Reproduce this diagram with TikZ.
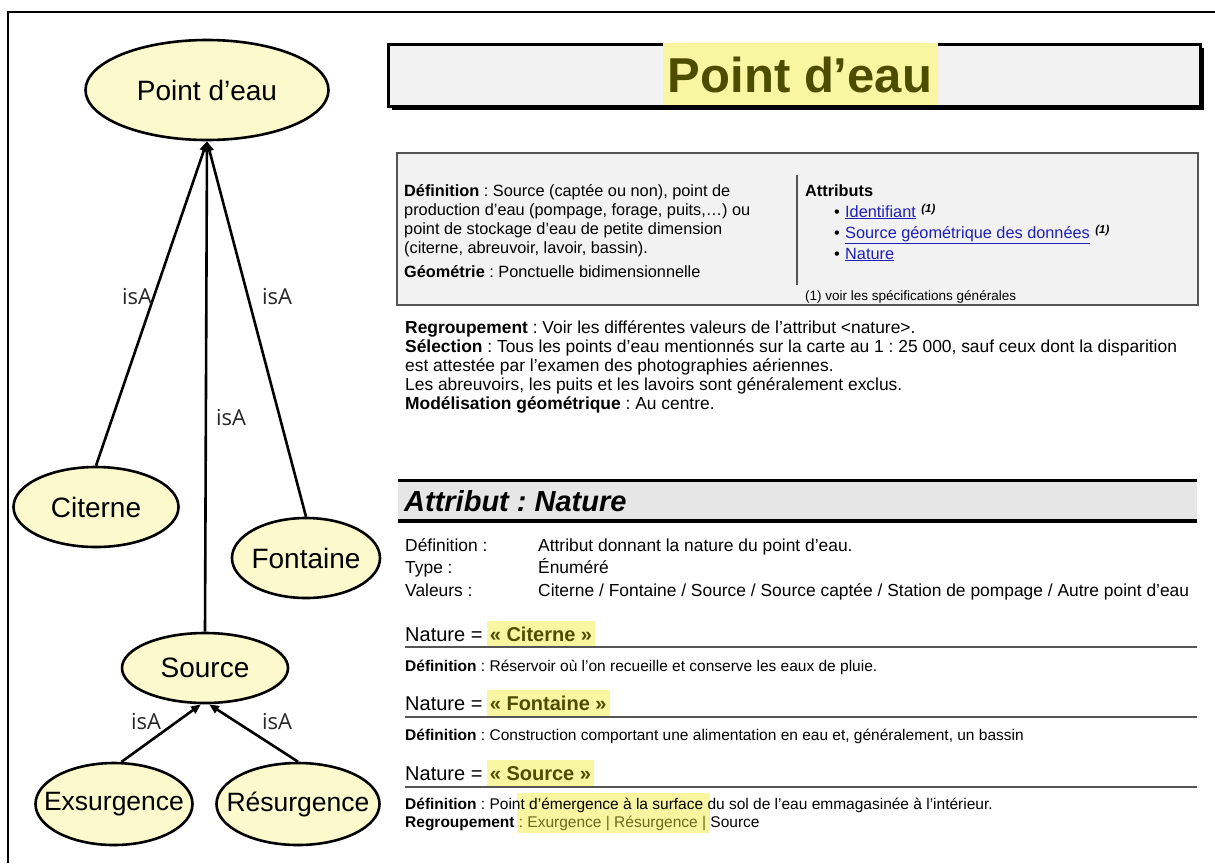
\documentclass[tikz,border=0pt]{standalone}
\usepackage{fontspec}
\setmainfont{Liberation Sans}
\newfontfamily\isafont{Open Sans}
\usetikzlibrary{shapes.geometric,arrows.meta}
\frenchspacing
\definecolor{ellfill}{HTML}{FCFACD}
\definecolor{hl}{HTML}{F9F6A2}
\definecolor{olivetxt}{HTML}{4D4D00}
\definecolor{olivelt}{HTML}{6B6B1E}
\definecolor{boxgray}{HTML}{F2F2F2}
\definecolor{bandgray}{HTML}{E6E6E6}
\definecolor{linkblue}{HTML}{1F1FB8}
\definecolor{rulegray}{HTML}{555555}
\newcommand\setfs[1]{\fontsize{#1}{#1}\selectfont}
\newcommand\ztext[1]{\makebox[0pt]{#1}}
\tikzset{
  ell/.style={ellipse, draw, line width=2.6pt, fill=ellfill, inner sep=0pt, font=\setfs{28}},
  isa/.style={line width=2.6pt, -{Triangle[length=10pt,width=8pt]}},
  lab/.style={font=\isafont\setfs{22}, text=black!85, inner sep=0pt},
  txt/.style={anchor=base west, inner sep=0pt, font=\setfs{17.4}},
  dtxt/.style={anchor=base west, inner sep=0pt, font=\setfs{16.3}},
  small/.style={anchor=base west, inner sep=0pt, font=\setfs{15.5}},
  hdr/.style={anchor=base west, inner sep=0pt, font=\setfs{20}},
  hlval/.style={anchor=base west, fill=hl, inner xsep=3pt, inner ysep=0pt, minimum height=26pt, font=\setfs{20}\bfseries, text=olivetxt},
  link/.style={anchor=base west, inner sep=0pt, font=\setfs{16.3}, text=linkblue},
  supr/.style={anchor=base west, inner sep=0pt, font=\setfs{11.5}\bfseries\itshape},
  thinrule/.style={line width=1.5pt, draw=rulegray}
}
\begin{document}
\begin{tikzpicture}[x=1pt,y=-1pt]
\useasboundingbox (0,0) rectangle (1215,863);
% outer frame
\draw[line width=2pt] (8,863) -- (8,12) -- (1215,12);

% ---------- left: taxonomy ----------
\node[ell, minimum width=243pt, minimum height=100pt] (P) at (207,90) {\ztext{Point d’eau}};
\node[ell, minimum width=165pt, minimum height=80pt] (C) at (96,507) {\ztext{Citerne}};
\node[ell, minimum width=148pt, minimum height=80pt] (F) at (306,558) {\ztext{Fontaine}};
\node[ell, minimum width=166pt, minimum height=70pt] (S) at (205,668) {\ztext{Source}};
\node[ell, minimum width=157pt, minimum height=82pt, font=\setfs{26.5}] (E) at (114,804) {\ztext{Exsurgence}};
\node[ell, minimum width=163pt, minimum height=82pt, font=\setfs{26.5}] (R) at (298,804) {\ztext{Résurgence}};

\draw[isa] (C.north) -- (P.south);
\draw[isa] (F.north) -- (P.south);
\draw[isa] (S.north) -- (P.south);
\draw[isa] (E.80) -- ([xshift=-4pt]S.south);
\draw[isa] (R.north) -- ([xshift=4pt]S.south);

\node[lab] (l1) at (137,297) {isA};
\node[lab] (l2) at (277,297) {isA};
\node[lab] (l3) at (231,418) {isA};
\node[lab] (l4) at (146,722) {isA};
\node[lab] (l5) at (277,722) {isA};

% ---------- right: title ----------
\fill[black] (392,48) rectangle (1204,110);
\draw[line width=3pt, fill=boxgray] (388,44) rectangle (1200,106);
\fill[hl] (663,42.5) rectangle (938,104.5);
\node[inner sep=0pt, font=\setfs{49}\bfseries, text=olivetxt] (title) at (800,75) {Point d’eau};

% ---------- definition box ----------
\draw[line width=1.5pt, draw=rulegray, fill=boxgray] (397,153) rectangle (1198,305);
\draw[line width=1.5pt, draw=rulegray] (797,175) -- (797,285);
\node[dtxt] (d1) at (404,196) {\textbf{Définition} : Source (captée ou non), point de};
\node[dtxt] (d2) at (404,215) {production d’eau (pompage, forage, puits,…) ou};
\node[dtxt] (d3) at (404,234) {point de stockage d’eau de petite dimension};
\node[dtxt] (d4) at (404,253) {(citerne, abreuvoir, lavoir, bassin).};
\node[dtxt] (d5) at (404,277) {\textbf{Géométrie} : Ponctuelle bidimensionnelle};

\node[dtxt] (a0) at (805,196) {\textbf{Attributs}};
\node[dtxt] (b1) at (834,217) {•};
\node[link] (a1) at (845,217) {\underline{Identifiant}};
\node[supr] (s1) at ([xshift=5pt,yshift=5pt]a1.base east) {(1)};
\node[dtxt] (b2) at (834,238) {•};
\node[link] (a2) at (845,238) {\underline{Source géométrique des données}};
\node[supr] (s2) at ([xshift=5pt,yshift=5pt]a2.base east) {(1)};
\node[dtxt] (b3) at (834,259) {•};
\node[link] (a3) at (845,259) {\underline{Nature}};
\node[dtxt, font=\setfs{13.5}] (fn) at (805,300) {(1) voir les spécifications générales};

% ---------- body ----------
\node[txt] (t1) at (405,333) {\textbf{Regroupement} : Voir les différentes valeurs de l'attribut <nature>.};
\node[txt] (t2) at (405,352) {\textbf{Sélection} : Tous les points d’eau mentionnés sur la carte au 1 : 25 000, sauf ceux dont la disparition};
\node[txt] (t3) at (405,371) {est attestée par l’examen des photographies aériennes.};
\node[txt] (t4) at (405,390) {Les abreuvoirs, les puits et les lavoirs sont généralement exclus.};
\node[txt] (t5) at (405,409) {\textbf{Modélisation géométrique} : Au centre.};

% ---------- attribut nature ----------
\fill[bandgray] (398,481.5) rectangle (1197,519);
\draw[line width=3pt] (398,480) -- (1197,480);
\draw[line width=4pt] (398,521) -- (1197,521);
\node[anchor=base west, inner sep=0pt, font=\setfs{29}\bfseries\itshape] (ah) at (404,511) {Attribut : Nature};

\node[txt] (r1) at (405,551) {Définition :};
\node[txt] (v1) at (538,551) {Attribut donnant la nature du point d'eau.};
\node[txt] (r2) at (405,573) {Type :};
\node[txt] (v2) at (538,573) {Énuméré};
\node[txt] (r3) at (405,596) {Valeurs :};
\node[txt] (v3) at (538,596) {Citerne / Fontaine / Source / Source captée / Station de pompage / Autre point d'eau};

% Nature = Citerne
\node[hdr] (n1) at (405,641) {Nature =};
\node[hlval] (h1) at ([xshift=4pt]n1.base east) {« Citerne »};
\draw[thinrule] (405,647) -- (1197,647);
\node[small] (e1) at (405,671) {\textbf{Définition} : Réservoir où l'on recueille et conserve les eaux de pluie.};

% Nature = Fontaine
\node[hdr] (n2) at (405,710) {Nature =};
\node[hlval] (h2) at ([xshift=4pt]n2.base east) {« Fontaine »};
\draw[thinrule] (405,717) -- (1197,717);
\node[small] (e2) at (405,740) {\textbf{Définition} : Construction comportant une alimentation en eau et, généralement, un bassin};

% Nature = Source
\node[hdr] (n3) at (405,780) {Nature =};
\node[hlval] (h3) at ([xshift=4pt]n3.base east) {« Source »};
\draw[thinrule] (405,787) -- (1197,787);
\fill[hl] (517,793) rectangle (710,833);
\node[small] (e3) at (405,809) {\textbf{Définition} : Point d'émergence à la surface du sol de l'eau emmagasinée à l'intérieur.};
\node[small] (e4) at (405,827) {\textbf{Regroupement} {\color{olivelt}: Exurgence | Résurgence |} Source};
\end{tikzpicture}
\end{document}
